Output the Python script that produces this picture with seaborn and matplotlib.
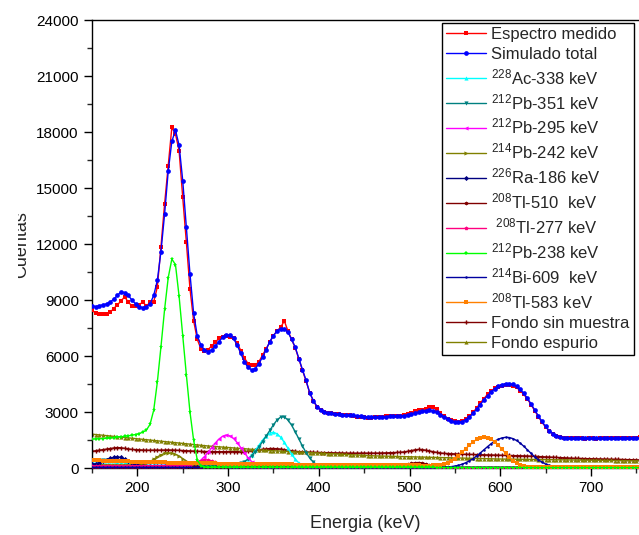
import numpy as np
import matplotlib
matplotlib.use("Agg")
import matplotlib.pyplot as plt
from matplotlib.patches import Rectangle
from matplotlib.ticker import MultipleLocator
import seaborn as sns

# Eje de energia (keV), un canal cada 4 keV
energia = np.arange(150, 755, 4)

espectro_medido = [
    8450, 8300, 8270, 8270, 8260, 8350, 8550, 8750, 8950, 9180, 8880, 8700, 8700, 8750, 8900, 8680, 8880, 8900, 9700,
    11850, 14150, 16200, 18250, 17900, 17000, 14500, 12100, 9600, 7900, 6900, 6400, 6300, 6350, 6550, 6750, 6950, 7050, 7100,
    7050, 6950, 6700, 6300, 5900, 5600, 5500, 5520, 5700, 6050, 6400, 6750, 7100, 7350, 7550, 7880, 7350, 6900, 6450,
    5850, 5250, 4650, 4050, 3600, 3280, 3100, 3000, 2960, 2930, 2900, 2880, 2850, 2830, 2820, 2790, 2760, 2740, 2720,
    2700, 2710, 2720, 2740, 2760, 2790, 2810, 2800, 2790, 2810, 2850, 2880, 2950, 3050, 3100, 3130, 3180, 3250, 3300,
    3150, 2950, 2780, 2650, 2560, 2510, 2480, 2520, 2620, 2780, 2980, 3220, 3480, 3720, 3950, 4130, 4270, 4360, 4420,
    4450, 4430, 4420, 4320, 4150, 3950, 3700, 3400, 3080, 2760, 2460, 2200, 2000, 1840, 1730, 1660, 1620, 1600, 1590,
    1590, 1600, 1590, 1580, 1600, 1590, 1580, 1590, 1610, 1600, 1590, 1600, 1620, 1610, 1600, 1620, 1630, 1640, 1650,
]

simulado_total = [
    8700, 8650, 8700, 8750, 8800, 8900, 9050, 9250, 9450, 9400, 9250, 9000, 8800, 8650, 8600, 8650, 8800, 9250, 10050,
    11600, 13600, 15900, 17500, 18100, 17300, 15400, 12900, 10400, 8300, 7100, 6600, 6330, 6240, 6330, 6520, 6780, 7000, 7110,
    7150, 6950, 6580, 6150, 5680, 5400, 5260, 5320, 5600, 5950, 6350, 6780, 7100, 7330, 7470, 7470, 7280, 6900, 6480,
    5870, 5270, 4700, 4020, 3620, 3300, 3140, 3030, 2970, 2940, 2910, 2890, 2870, 2850, 2840, 2820, 2800, 2780, 2760,
    2740, 2730, 2730, 2740, 2750, 2760, 2770, 2780, 2790, 2800, 2810, 2840, 2890, 2940, 2990, 3040, 3080, 3100, 3070,
    2990, 2870, 2740, 2620, 2530, 2470, 2450, 2480, 2580, 2730, 2930, 3150, 3400, 3650, 3880, 4080, 4250, 4380, 4470,
    4520, 4530, 4480, 4380, 4220, 4000, 3740, 3440, 3120, 2800, 2500, 2230, 2010, 1850, 1740, 1670, 1630, 1610, 1600,
    1600, 1600, 1600, 1600, 1600, 1600, 1600, 1600, 1600, 1600, 1610, 1610, 1610, 1620, 1620, 1620, 1630, 1630, 1630,
]

ac228_338 = [
    420, 410, 400, 390, 380, 370, 360, 350, 340, 330, 320, 310, 300, 290, 280, 270, 260, 250, 240,
    230, 220, 215, 210, 205, 200, 195, 190, 185, 180, 175, 170, 165, 160, 155, 150, 150, 150, 150,
    150, 160, 190, 250, 350, 500, 700, 950, 1230, 1500, 1730, 1880, 1920, 1840, 1650, 1380, 1060, 750, 480,
    280, 150, 80, 50, 40, 35, 30, 30, 30, 25, 25, 25, 20, 20, 20, 20, 20, 20, 20,
    20, 20, 20, 20, 20, 20, 20, 20, 20, 20, 20, 20, 20, 20, 20, 20, 20, 20, 20,
    15, 15, 15, 15, 15, 15, 15, 15, 15, 15, 15, 15, 15, 15, 15, 15, 15, 15, 15,
    10, 10, 10, 10, 10, 10, 10, 10, 10, 10, 10, 10, 10, 10, 10, 10, 10, 10, 10,
    10, 10, 10, 10, 10, 10, 10, 10, 10, 10, 10, 10, 10, 10, 10, 10, 10, 10, 10,
]

pb212_351 = [
    450, 440, 430, 420, 410, 400, 390, 380, 370, 360, 350, 340, 330, 320, 310, 300, 290, 280, 270,
    260, 250, 240, 230, 220, 210, 200, 195, 190, 185, 180, 175, 170, 165, 160, 155, 150, 150, 150,
    150, 160, 190, 250, 340, 480, 660, 880, 1130, 1420, 1720, 2020, 2320, 2580, 2740, 2740, 2580, 2300, 1950,
    1560, 1180, 830, 540, 320, 180, 100, 60, 45, 40, 35, 30, 30, 25, 25, 25, 20, 20, 20,
    20, 20, 20, 20, 20, 20, 20, 20, 20, 20, 20, 20, 20, 20, 20, 20, 20, 20, 20,
    15, 15, 15, 15, 15, 15, 15, 15, 15, 15, 15, 15, 15, 15, 15, 15, 15, 15, 15,
    10, 10, 10, 10, 10, 10, 10, 10, 10, 10, 10, 10, 10, 10, 10, 10, 10, 10, 10,
    10, 10, 10, 10, 10, 10, 10, 10, 10, 10, 10, 10, 10, 10, 10, 10, 10, 10, 10,
]

pb212_295 = [
    130, 130, 130, 130, 130, 130, 130, 130, 130, 130, 130, 130, 130, 130, 130, 130, 130, 130, 130,
    140, 140, 140, 140, 140, 140, 150, 160, 180, 220, 300, 430, 620, 850, 1100, 1350, 1560, 1710, 1770,
    1730, 1590, 1370, 1100, 820, 560, 350, 200, 110, 60, 40, 30, 25, 20, 20, 20, 20, 20, 20,
    20, 20, 20, 20, 20, 20, 20, 20, 20, 20, 20, 20, 20, 20, 20, 20, 20, 20, 20,
    15, 15, 15, 15, 15, 15, 15, 15, 15, 15, 15, 15, 15, 15, 15, 15, 15, 15, 15,
    15, 15, 15, 15, 15, 15, 15, 15, 15, 15, 15, 15, 15, 15, 15, 15, 15, 15, 15,
    10, 10, 10, 10, 10, 10, 10, 10, 10, 10, 10, 10, 10, 10, 10, 10, 10, 10, 10,
    10, 10, 10, 10, 10, 10, 10, 10, 10, 10, 10, 10, 10, 10, 10, 10, 10, 10, 10,
]

pb214_242 = [
    180, 180, 180, 180, 175, 175, 175, 170, 170, 170, 170, 170, 175, 185, 210, 260, 350, 470, 600,
    710, 790, 820, 800, 740, 640, 510, 380, 260, 170, 110, 80, 60, 50, 45, 40, 40, 40, 40,
    40, 40, 40, 40, 40, 40, 40, 40, 40, 40, 40, 40, 40, 40, 40, 40, 40, 40, 40,
    35, 35, 35, 35, 35, 35, 35, 35, 35, 35, 35, 35, 35, 35, 35, 35, 35, 35, 35,
    35, 35, 35, 35, 35, 35, 35, 35, 35, 35, 35, 35, 35, 35, 35, 35, 35, 35, 35,
    30, 30, 30, 30, 30, 30, 30, 30, 30, 30, 30, 30, 30, 30, 30, 30, 30, 30, 30,
    30, 30, 30, 30, 30, 30, 30, 30, 30, 30, 30, 30, 30, 30, 30, 30, 30, 30, 30,
    30, 30, 30, 30, 30, 30, 30, 30, 30, 30, 30, 30, 30, 30, 30, 30, 30, 30, 30,
]

ra226_186 = [
    210, 240, 290, 360, 440, 520, 580, 600, 570, 490, 390, 290, 200, 140, 100, 70, 55, 45, 40,
    40, 40, 40, 40, 40, 40, 40, 40, 40, 40, 40, 40, 40, 40, 40, 40, 40, 40, 40,
    35, 35, 35, 35, 35, 35, 35, 35, 35, 35, 35, 35, 35, 35, 35, 35, 35, 35, 35,
    35, 35, 35, 35, 35, 35, 35, 35, 35, 35, 35, 35, 35, 35, 35, 35, 35, 35, 35,
    30, 30, 30, 30, 30, 30, 30, 30, 30, 30, 30, 30, 30, 30, 30, 30, 30, 30, 30,
    30, 30, 30, 30, 30, 30, 30, 30, 30, 30, 30, 30, 30, 30, 30, 30, 30, 30, 30,
    30, 30, 30, 30, 30, 30, 30, 30, 30, 30, 30, 30, 30, 30, 30, 30, 30, 30, 30,
    30, 30, 30, 30, 30, 30, 30, 30, 30, 30, 30, 30, 30, 30, 30, 30, 30, 30, 30,
]

tl208_510 = [
    60, 60, 60, 60, 60, 60, 60, 60, 60, 60, 60, 60, 60, 60, 60, 60, 60, 60, 60,
    55, 55, 55, 55, 55, 55, 55, 55, 55, 55, 55, 55, 55, 55, 55, 55, 55, 55, 55,
    50, 50, 50, 50, 50, 50, 50, 50, 50, 50, 50, 50, 50, 50, 50, 50, 50, 50, 50,
    45, 45, 45, 45, 45, 45, 45, 45, 45, 45, 45, 45, 45, 45, 45, 45, 45, 45, 45,
    40, 40, 40, 40, 40, 45, 50, 60, 80, 110, 150, 200, 250, 290, 300, 280, 230, 170, 120,
    80, 55, 40, 35, 30, 30, 30, 30, 30, 30, 30, 30, 30, 30, 30, 30, 30, 30, 30,
    30, 30, 30, 30, 30, 30, 30, 30, 30, 30, 30, 30, 30, 30, 30, 30, 30, 30, 30,
    25, 25, 25, 25, 25, 25, 25, 25, 25, 25, 25, 25, 25, 25, 25, 25, 25, 25, 25,
]

tl208_277 = [
    120, 120, 120, 120, 120, 120, 120, 120, 120, 120, 120, 120, 120, 120, 120, 120, 120, 120, 120,
    120, 120, 120, 120, 120, 125, 130, 150, 190, 250, 330, 400, 440, 440, 390, 310, 220, 150, 100,
    70, 50, 40, 35, 30, 30, 25, 25, 20, 20, 20, 20, 20, 20, 20, 20, 20, 20, 20,
    20, 20, 20, 20, 20, 20, 20, 20, 20, 20, 20, 20, 20, 20, 20, 20, 20, 20, 20,
    15, 15, 15, 15, 15, 15, 15, 15, 15, 15, 15, 15, 15, 15, 15, 15, 15, 15, 15,
    15, 15, 15, 15, 15, 15, 15, 15, 15, 15, 15, 15, 15, 15, 15, 15, 15, 15, 15,
    10, 10, 10, 10, 10, 10, 10, 10, 10, 10, 10, 10, 10, 10, 10, 10, 10, 10, 10,
    10, 10, 10, 10, 10, 10, 10, 10, 10, 10, 10, 10, 10, 10, 10, 10, 10, 10, 10,
]

pb212_238 = [
    1550, 1560, 1570, 1580, 1600, 1620, 1640, 1660, 1680, 1700, 1730, 1760, 1800, 1850, 1930, 2040, 2350, 3100, 4600,
    6500, 8500, 10200, 11200, 10900, 9200, 7100, 5000, 3000, 1500, 450, 120, 50, 40, 40, 40, 40, 40, 40,
    40, 40, 40, 40, 40, 40, 40, 40, 40, 40, 40, 40, 40, 40, 40, 40, 40, 40, 40,
    35, 35, 35, 35, 35, 35, 35, 35, 35, 35, 35, 35, 35, 35, 35, 35, 35, 35, 35,
    35, 35, 35, 35, 35, 35, 35, 35, 35, 35, 35, 35, 35, 35, 35, 35, 35, 35, 35,
    30, 30, 30, 30, 30, 30, 30, 30, 30, 30, 30, 30, 30, 30, 30, 30, 30, 30, 30,
    30, 30, 30, 30, 30, 25, 20, 20, 20, 20, 20, 20, 20, 20, 20, 20, 20, 20, 20,
    20, 20, 20, 20, 20, 20, 20, 20, 20, 20, 20, 20, 20, 20, 20, 20, 20, 20, 20,
]

bi214_609 = [
    40, 40, 40, 40, 40, 40, 40, 40, 40, 40, 40, 40, 40, 40, 40, 40, 40, 40, 40,
    35, 35, 35, 35, 35, 35, 35, 35, 35, 35, 35, 35, 35, 35, 35, 35, 35, 35, 35,
    30, 30, 30, 30, 30, 30, 30, 30, 30, 30, 30, 30, 30, 30, 30, 30, 30, 30, 30,
    30, 30, 30, 30, 30, 30, 30, 30, 30, 30, 30, 30, 30, 30, 30, 30, 30, 30, 30,
    30, 30, 30, 30, 30, 30, 30, 30, 30, 30, 30, 30, 30, 30, 30, 30, 30, 30, 30,
    35, 40, 50, 60, 80, 110, 150, 210, 290, 390, 510, 650, 810, 980, 1150, 1310, 1450, 1550, 1620,
    1650, 1640, 1580, 1480, 1340, 1170, 980, 790, 610, 450, 320, 220, 150, 100, 70, 50, 40, 35, 30,
    30, 30, 30, 30, 30, 30, 30, 30, 30, 30, 30, 30, 30, 30, 30, 30, 30, 30, 30,
]

tl208_583 = [
    420, 415, 410, 400, 395, 390, 380, 375, 370, 360, 355, 350, 345, 340, 335, 330, 325, 320, 315,
    310, 305, 300, 295, 290, 285, 280, 275, 270, 265, 260, 258, 255, 252, 250, 248, 245, 242, 240,
    238, 235, 232, 230, 228, 225, 222, 220, 218, 215, 212, 210, 208, 205, 202, 200, 198, 196, 194,
    192, 190, 188, 186, 184, 182, 180, 178, 176, 174, 172, 170, 168, 166, 164, 162, 160, 158, 156,
    155, 154, 153, 152, 151, 150, 149, 148, 147, 146, 145, 144, 143, 142, 141, 140, 140, 140, 142,
    150, 170, 210, 280, 380, 510, 670, 850, 1040, 1230, 1400, 1540, 1630, 1660, 1630, 1540, 1400, 1220, 1010,
    790, 580, 400, 260, 160, 100, 70, 60, 55, 55, 55, 55, 55, 55, 55, 55, 55, 55, 55,
    55, 55, 55, 55, 55, 55, 55, 55, 55, 55, 55, 55, 55, 55, 55, 55, 55, 55, 55,
]

fondo_sin_muestra = [
    900, 930, 960, 990, 1020, 1050, 1080, 1100, 1090, 1060, 1030, 1000, 990, 980, 970, 960, 960, 960, 960,
    965, 970, 975, 970, 960, 950, 940, 930, 920, 910, 900, 895, 890, 885, 880, 880, 880, 880, 880,
    880, 880, 880, 885, 890, 900, 920, 950, 980, 1010, 1030, 1050, 1050, 1040, 1020, 990, 960, 930, 900,
    880, 870, 860, 850, 845, 840, 835, 830, 825, 820, 815, 810, 805, 800, 800, 800, 800, 800, 800,
    800, 800, 800, 805, 810, 815, 820, 830, 840, 850, 870, 900, 940, 980, 1000, 990, 960, 920, 880,
    840, 810, 790, 780, 770, 760, 750, 745, 740, 735, 730, 725, 720, 715, 710, 705, 700, 695, 690,
    685, 680, 675, 670, 665, 660, 650, 640, 630, 620, 610, 600, 590, 580, 570, 560, 550, 540, 530,
    525, 520, 515, 510, 505, 500, 495, 490, 485, 480, 475, 470, 465, 460, 455, 450, 450, 445, 440,
]

fondo_espurio = [
    1820, 1800, 1780, 1760, 1740, 1720, 1700, 1680, 1660, 1640, 1620, 1600, 1580, 1560, 1540, 1520, 1500, 1480, 1460,
    1440, 1420, 1400, 1380, 1360, 1340, 1320, 1300, 1280, 1260, 1240, 1220, 1200, 1185, 1170, 1155, 1140, 1125, 1110,
    1095, 1080, 1065, 1050, 1035, 1020, 1005, 990, 975, 960, 950, 940, 930, 920, 910, 900, 890, 880, 870,
    860, 850, 840, 830, 820, 810, 800, 790, 780, 770, 760, 750, 740, 730, 720, 710, 700, 690, 680,
    670, 660, 655, 650, 645, 640, 635, 630, 625, 620, 615, 610, 605, 600, 595, 590, 585, 580, 575,
    570, 565, 560, 555, 550, 545, 540, 535, 530, 525, 520, 515, 510, 505, 500, 495, 490, 488, 485,
    483, 480, 478, 475, 473, 470, 468, 465, 463, 460, 458, 455, 453, 450, 448, 445, 443, 440, 438,
    435, 433, 430, 428, 425, 423, 420, 418, 415, 413, 410, 408, 405, 403, 400, 398, 395, 393, 390,
]

# (etiqueta, datos, color, marcador, tamano, zorder)
series = [
    ("Espectro medido", espectro_medido, "#FF0000", "s", 3.2, 5),
    ("Simulado total", simulado_total, "#0000FF", "o", 3.4, 6),
    (r"$^{228}$Ac-338 keV", ac228_338, "#00FFFF", "^", 3.0, 3),
    (r"$^{212}$Pb-351 keV", pb212_351, "#008080", "v", 3.0, 3),
    (r"$^{212}$Pb-295 keV", pb212_295, "#FF00FF", "<", 3.0, 3),
    (r"$^{214}$Pb-242 keV", pb214_242, "#808000", ">", 3.0, 3),
    (r"$^{226}$Ra-186 keV", ra226_186, "#000080", "D", 2.6, 3),
    (r"$^{208}$Tl-510  keV", tl208_510, "#800000", "h", 2.8, 3),
    (r" $^{208}$Tl-277 keV", tl208_277, "#FF0080", "p", 3.0, 3),
    (r"$^{212}$Pb-238 keV", pb212_238, "#00FF00", "*", 3.6, 4),
    (r"$^{214}$Bi-609  keV", bi214_609, "#0000A0", ".", 3.6, 3),
    (r"$^{208}$Tl-583 keV", tl208_583, "#FF8000", "s", 2.8, 3),
    ("Fondo sin muestra", fondo_sin_muestra, "#800000", "P", 3.0, 2),
    ("Fondo espurio", fondo_espurio, "#808000", "^", 3.0, 2),
]

sns.set_style("ticks")
plt.rcParams["font.family"] = ["Liberation Sans", "DejaVu Sans"]
plt.rcParams["mathtext.fontset"] = "custom"
plt.rcParams["mathtext.rm"] = "Liberation Sans"
plt.rcParams["mathtext.it"] = "Liberation Sans:italic"

fig = plt.figure(figsize=(6.39, 5.35), dpi=100)
ax = fig.add_axes([0.144, 0.125, 0.856, 0.8375])

for label, vals, color, marker, ms, z in series:
    sns.lineplot(x=energia, y=vals, ax=ax, color=color, marker=marker,
                 markersize=ms, markeredgewidth=0, linewidth=1.0,
                 label=label, zorder=z)

ax.set_xlim(150, 753)
ax.set_ylim(0, 24000)
ax.xaxis.set_major_locator(MultipleLocator(100))
ax.xaxis.set_minor_locator(MultipleLocator(50))
ax.yaxis.set_major_locator(MultipleLocator(3000))
ax.yaxis.set_minor_locator(MultipleLocator(1500))
ax.tick_params(which="major", direction="out", length=6, width=1, labelsize=11, colors="black")
ax.tick_params(which="minor", direction="out", length=3.5, width=1)
for s in ["left", "bottom", "top"]:
    ax.spines[s].set_color("black")
    ax.spines[s].set_linewidth(1.0)
ax.spines["right"].set_visible(False)

ax.set_xlabel("Energia (keV)", fontsize=13, labelpad=14)
ax.set_ylabel("Cuentas", fontsize=13)
ax.yaxis.set_label_coords(-0.113, 0.5)

leg = ax.legend(loc="upper right", bbox_to_anchor=(634 / 639, (535 - 23) / 535),
                bbox_transform=fig.transFigure, fontsize=12, frameon=True,
                fancybox=False, framealpha=1, edgecolor="black", borderaxespad=0,
                handlelength=2.4, handletextpad=0.3, labelspacing=0.3, borderpad=0.25)
leg.get_frame().set_linewidth(1.0)

# la etiqueta del eje y aparece recortada en el original
fig.add_artist(Rectangle((0, 0), 18 / 639, 1, transform=fig.transFigure,
                         facecolor="white", edgecolor="none", zorder=20))

fig.savefig("out.png", dpi=100)
